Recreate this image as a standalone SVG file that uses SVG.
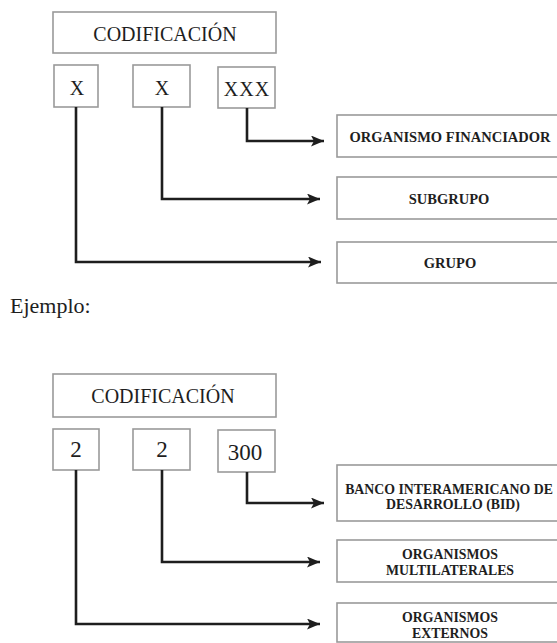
<svg xmlns="http://www.w3.org/2000/svg" width="557" height="643" viewBox="0 0 557 643">
<defs>
<style>
.box{fill:#fff;stroke:#9a9a9a;stroke-width:1.6}
.t{font-family:"Liberation Serif","Times New Roman",serif;fill:#1e1e1e;text-anchor:middle}
.big{font-size:20px}
.dig{font-size:23px}
.lbl{font-size:14.5px;font-weight:bold}
.lbl2{font-size:13.8px;font-weight:bold}
.conn{fill:none;stroke:#1e1e1e;stroke-width:2.6;marker-end:url(#arr)}
</style>
<marker id="arr" markerUnits="userSpaceOnUse" markerWidth="14" markerHeight="12" refX="13" refY="5.5" orient="auto">
<path d="M0,0 L13,5.5 L0,11 L3,5.5 Z" fill="#1e1e1e"/>
</marker>
</defs>
<rect width="557" height="643" fill="#fff"/>

<g id="codif1"><rect class="box" x="53" y="12" width="223" height="41"/><text class="t big" x="165" y="41">CODIFICACIÓN</text></g>
<g id="x1"><rect class="box" x="54" y="65" width="44" height="42"/><text class="t big" x="77" y="95">X</text></g>
<g id="x2"><rect class="box" x="133" y="65" width="57" height="42"/><text class="t big" x="162" y="95">X</text></g>
<g id="xxx"><rect class="box" x="218" y="67" width="57" height="41"/><text class="t big" x="247" y="96" letter-spacing="1">XXX</text></g>
<g id="orgfin"><rect class="box" x="337" y="115" width="226" height="42"/><text class="t lbl" x="450" y="142">ORGANISMO FINANCIADOR</text></g>
<g id="subgrupo"><rect class="box" x="337" y="177" width="226" height="42"/><text class="t lbl" x="449" y="204">SUBGRUPO</text></g>
<g id="grupo"><rect class="box" x="337" y="242" width="226" height="41"/><text class="t lbl" x="450" y="268">GRUPO</text></g>

<g id="ejemplo"><text x="10" y="313" font-family="'Liberation Serif','Times New Roman',serif" font-size="22" fill="#1e1e1e">Ejemplo:</text></g>

<g id="codif2"><rect class="box" x="53" y="374" width="223" height="43"/><text class="t big" x="163" y="403">CODIFICACIÓN</text></g>
<g id="d1"><rect class="box" x="53" y="429" width="46" height="41"/><text class="t dig" x="76" y="457">2</text></g>
<g id="d2"><rect class="box" x="133" y="429" width="57" height="41"/><text class="t dig" x="162" y="457">2</text></g>
<g id="d300"><rect class="box" x="218" y="430" width="57" height="42"/><text class="t dig" x="245" y="460">300</text></g>
<g id="bid"><rect class="box" x="337" y="465" width="226" height="56"/><text class="t lbl2" x="449" y="494">BANCO INTERAMERICANO DE</text><text class="t lbl2" x="453" y="509.4">DESARROLLO (BID)</text></g>
<g id="multi"><rect class="box" x="337" y="540" width="226" height="42"/><text class="t lbl2" x="450" y="559.3">ORGANISMOS</text><text class="t lbl2" x="450" y="574.7">MULTILATERALES</text></g>
<g id="ext"><rect class="box" x="337" y="603" width="226" height="39"/><text class="t lbl2" x="450" y="622.3">ORGANISMOS</text><text class="t lbl2" x="450" y="637.7">EXTERNOS</text></g>

<g id="connectors">
<path class="conn" d="M247,108 V141 H324"/>
<path class="conn" d="M162,107 V199 H320"/>
<path class="conn" d="M76,107 V262 H321"/>
<path class="conn" d="M247,472 V503 H324"/>
<path class="conn" d="M162,470 V562 H320"/>
<path class="conn" d="M76,470 V624 H320"/>
</g>
</svg>
